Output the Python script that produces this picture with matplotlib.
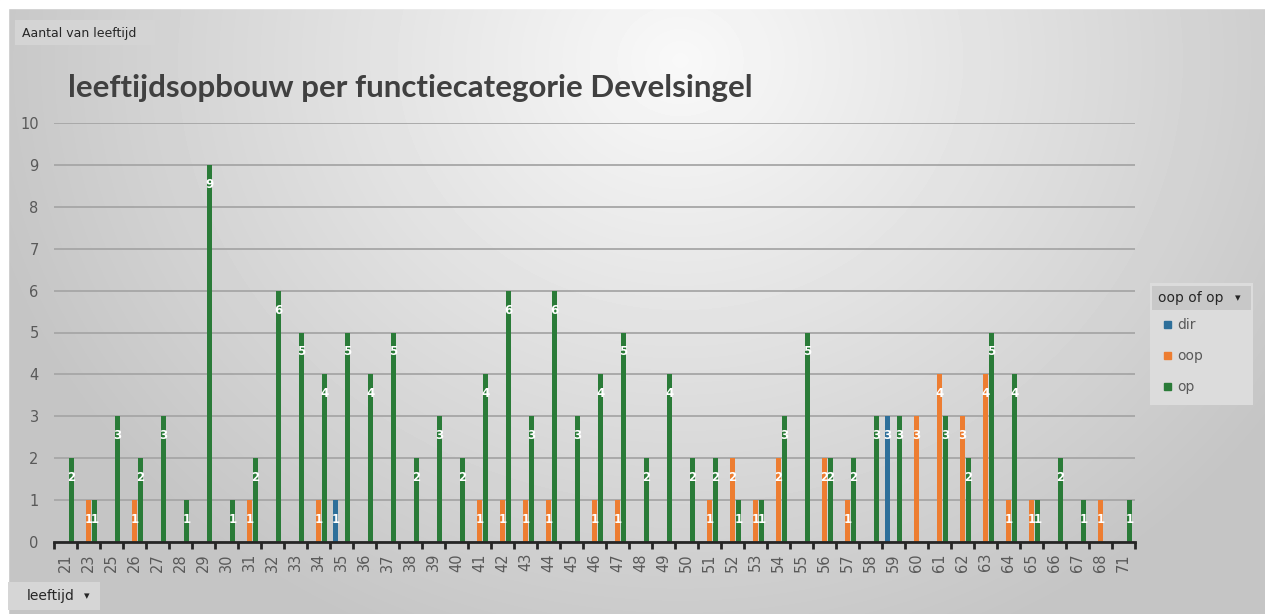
import numpy as np
import matplotlib
matplotlib.use("Agg")
import matplotlib.pyplot as plt
from matplotlib.patches import Rectangle

# data
leeftijd = [21, 23, 25, 26, 27, 28, 29, 30, 31, 32, 33, 34, 35, 36, 37, 38, 39, 40,
            41, 42, 43, 44, 45, 46, 47, 48, 49, 50, 51, 52, 53, 54, 55, 56, 57, 58,
            59, 60, 61, 62, 63, 64, 65, 66, 67, 68, 71]
dir_vals = [0, 0, 0, 0, 0, 0, 0, 0, 0, 0, 0, 0, 1, 0, 0, 0, 0, 0,
            0, 0, 0, 0, 0, 0, 0, 0, 0, 0, 0, 0, 0, 0, 0, 0, 0, 0,
            3, 0, 0, 0, 0, 0, 0, 0, 0, 0, 0]
oop_vals = [0, 1, 0, 1, 0, 0, 0, 0, 1, 0, 0, 1, 0, 0, 0, 0, 0, 0,
            1, 1, 1, 1, 0, 1, 1, 0, 0, 0, 1, 2, 1, 2, 0, 2, 1, 0,
            0, 3, 4, 3, 4, 1, 1, 0, 0, 1, 0]
op_vals = [2, 1, 3, 2, 3, 1, 9, 1, 2, 6, 5, 4, 5, 4, 5, 2, 3, 2,
           4, 6, 3, 6, 3, 4, 5, 2, 4, 2, 2, 1, 1, 3, 5, 2, 2, 3,
           3, 0, 3, 2, 5, 4, 1, 2, 1, 0, 1]
series_names = ["dir", "oop", "op"]
colors = ["#2e6f9a", "#ed7d31", "#2a7b38"]

W, H = 1265, 614
fig = plt.figure(figsize=(W / 100, H / 100), dpi=100)

# gray gradient background like the excel chart area
bg = fig.add_axes([0, 0, 1, 1])
yy, xx = np.mgrid[0:H, 0:W]
d = np.sqrt(((xx - 680) / W) ** 2 + ((yy - 60) / H * 0.55) ** 2)
shade = np.clip(0.975 - 0.36 * d, 0.77, 0.975)
bg.imshow(shade, cmap="gray", vmin=0, vmax=1, extent=[0, W, H, 0], aspect="auto")
bg.add_patch(Rectangle((0, 0), W, 8, color="white"))
bg.add_patch(Rectangle((0, 0), 8, H, color="white"))
bg.set_xlim(0, W)
bg.set_ylim(H, 0)
bg.axis("off")

# buttons of the pivot chart
bg.add_patch(Rectangle((15, 20), 140, 25, facecolor="#d4d4d4", edgecolor="none"))
bg.text(22, 33, "Aantal van leeftijd", fontsize=9, color="#262626", va="center")
bg.add_patch(Rectangle((8, 582), 92, 28, facecolor="#d6d6d6", edgecolor="none"))
bg.text(27, 596, "leeftijd", fontsize=10, color="#262626", va="center")
bg.text(87, 596, "\u25BE", fontsize=8, color="#262626", va="center", ha="center")

# legend box
bg.add_patch(Rectangle((1150, 283), 103, 122, facecolor="#dcdcdc", edgecolor="none"))
bg.add_patch(Rectangle((1152, 286), 99, 24, facecolor="#c8c8c8", edgecolor="none"))
bg.text(1158, 298, "oop of op", fontsize=10, color="#262626", va="center")
bg.text(1238, 298, "\u25BE", fontsize=8, color="#262626", va="center", ha="center")
for k, (name, col) in enumerate(zip(series_names, colors)):
    yk = 325 + 31 * k
    bg.add_patch(Rectangle((1164, yk - 4), 7, 7, color=col))
    bg.text(1177, yk, name, fontsize=10, color="#595959", va="center")

# title
fig.text(68 / W, 1 - 88 / H, "leeftijdsopbouw per functiecategorie Develsingel",
         fontsize=22.5, fontweight="bold", color="#404040", va="center", ha="left",
         family=["Lato", "DejaVu Sans"])

# main plot
ax = fig.add_axes([54 / W, (H - 542) / H, (1135 - 54) / W, (542 - 123) / H])
ax.patch.set_alpha(0)
x = np.arange(len(leeftijd))
bw = 0.24
offsets = [-0.26, 0.0, 0.26]
for vals, off, col in zip([dir_vals, oop_vals, op_vals], offsets, colors):
    bars = ax.bar(x + off, vals, width=bw, color=col, zorder=3)
    for b, v in zip(bars, vals):
        if v > 0:
            ax.annotate(str(v), (b.get_x() + b.get_width() / 2, v), xytext=(0, -14),
                        textcoords="offset points", ha="center", va="center",
                        color="white", fontsize=8.5, fontweight="bold", zorder=4)

ax.set_xlim(-0.5, len(leeftijd) - 0.5)
ax.set_ylim(0, 10)
ax.set_yticks(range(11))
ax.yaxis.grid(True, color="#a6a6a6", linewidth=1.3, zorder=0)
ax.set_xticks(x)
ax.set_xticklabels([str(a) for a in leeftijd], rotation=90, color="#595959", fontsize=10.5)
ax.set_xticks(np.arange(-0.5, len(leeftijd)), minor=True)
ax.tick_params(axis="x", which="major", length=0, pad=8)
ax.tick_params(axis="x", which="minor", length=5, width=2, color="#262626", direction="out")
ax.tick_params(axis="y", length=0, labelcolor="#595959", labelsize=10.5, pad=11)
for s in ["top", "right", "left"]:
    ax.spines[s].set_visible(False)
ax.spines["bottom"].set_color("#262626")
ax.spines["bottom"].set_linewidth(2)
ax.spines["bottom"].set_zorder(5)

fig.savefig("out.png", dpi=100)
